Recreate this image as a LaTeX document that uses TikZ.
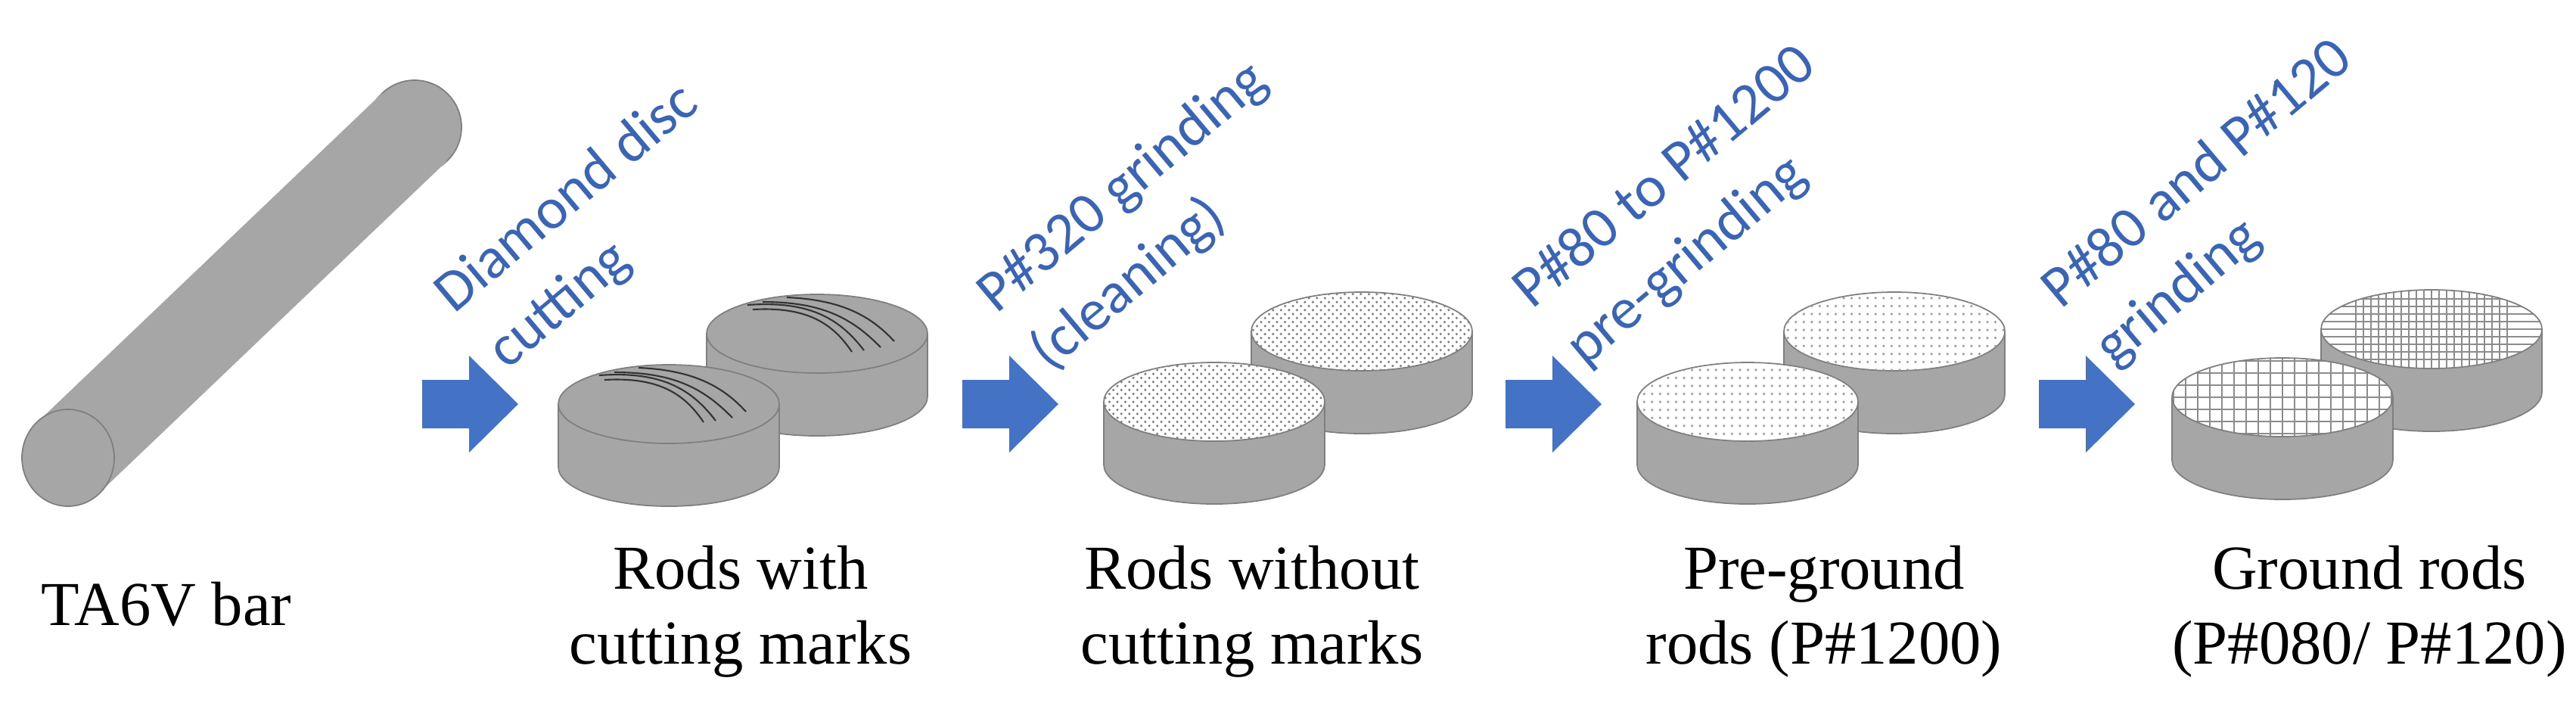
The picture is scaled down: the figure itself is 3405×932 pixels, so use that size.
\documentclass[tikz,border=0pt]{standalone}
\usepackage{fontspec}
\setmainfont{Liberation Serif}
\newfontfamily\blue{Carlito}
\usetikzlibrary{patterns}
\definecolor{rodgray}{HTML}{A6A6A6}
\definecolor{edgegray}{HTML}{7F7F7F}
\definecolor{arrowblue}{HTML}{4472C4}
\definecolor{textblue}{HTML}{3A64B5}
\tikzset{
  lab/.style={font=\fontsize{23.5}{28}\selectfont, align=center, anchor=base, inner sep=0pt},
  steplab/.style={font=\blue\fontsize{22}{26}\selectfont, text=textblue, rotate=40, anchor=base west, inner sep=0pt},
  rodside/.style={fill=rodgray, draw=edgegray, line width=0.5pt},
}
% cx, cy (top ellipse centre), top kind: 1 scratches, 2 coarse dots, 3 fine dots, 4 grid (spacing #4)
\newcommand\rodcyl[4]{%
  \path[rodside] (#1-146,#2) -- (#1-146,#2+83) arc[start angle=180,end angle=0,x radius=146,y radius=52] -- (#1+146,#2) -- cycle;
  \ifcase#3\or
    \path[fill=rodgray, draw=edgegray, line width=0.5pt] (#1,#2) ellipse[x radius=146,y radius=52];
    \draw[line width=0.6pt, black!80] (#1-92,#2-38) .. controls (#1-10,#2-44) and (#1+30,#2-20) .. (#1+62,#2+22);
    \draw[line width=0.6pt, black!80] (#1-72,#2-42) .. controls (#1+5,#2-42) and (#1+45,#2-22) .. (#1+84,#2+18);
    \draw[line width=0.6pt, black!80] (#1-40,#2-48) .. controls (#1+30,#2-45) and (#1+70,#2-25) .. (#1+102,#2+10);
    \draw[line width=0.6pt, black!80] (#1-85,#2-32) .. controls (#1-15,#2-36) and (#1+20,#2-15) .. (#1+46,#2+24);
  \or
    \path[fill=white, draw=edgegray, line width=0.5pt] (#1,#2) ellipse[x radius=146,y radius=52];
    \path[pattern=crosshatch dots, pattern color=gray] (#1,#2) ellipse[x radius=146,y radius=52];
  \or
    \path[fill=white, draw=edgegray, line width=0.5pt] (#1,#2) ellipse[x radius=146,y radius=52];
    \path[pattern=dots, pattern color=gray!80] (#1,#2) ellipse[x radius=146,y radius=52];
  \or
    \path[fill=white] (#1,#2) ellipse[x radius=146,y radius=52];
    \begin{scope}
      \clip (#1,#2) ellipse[x radius=146,y radius=52];
      \foreach \k in {-160,-144,...,160} {\draw[gray!90, line width=0.4pt] (#1+\k*#4/16,#2-60) -- (#1+\k*#4/16,#2+60);}
      \foreach \k in {-64,-48,...,64} {\draw[gray!90, line width=0.4pt] (#1-150,#2+\k*#4/16) -- (#1+150,#2+\k*#4/16);}
    \end{scope}
    \path[draw=edgegray, line width=0.5pt] (#1,#2) ellipse[x radius=146,y radius=52];
  \fi}
\newcommand\blockarrow[1]{%
  \fill[arrowblue] (#1,502) -- (#1+62,502) -- (#1+62,470) -- (#1+127,534) -- (#1+62,598) -- (#1+62,566) -- (#1,566) -- cycle;}
\begin{document}
\begin{tikzpicture}[x=0.01cm,y=-0.01cm]
\useasboundingbox (0,0) rectangle (3405,932);
% bar
\path[fill=rodgray, draw=edgegray, line width=0.5pt] (548,168) circle[radius=62];
\fill[rodgray] (132.8,649.9) -- (590.8,212.9) -- (505.2,123.1) -- (47.2,560.1) -- cycle;
\path[fill=rodgray, draw=edgegray, line width=0.5pt] (90,605) ellipse[x radius=61,y radius=64];
\node[lab] (barlab) at (220,826) {TA6V bar};
% arrows
\blockarrow{558}
\blockarrow{1272}
\blockarrow{1990}
\blockarrow{2695}
\node[steplab] (s1a) at (600,416) {Diamond disc};
\node[steplab] (s1b) at (670,490) {cutting};
\node[steplab] (s2a) at (1317,416) {P\#320 grinding};
\node[steplab] (s2b) at (1387,492) {(cleaning)};
\node[steplab] (s3a) at (2025,410) {P\#80 to P\#1200};
\node[steplab] (s3b) at (2095,486) {pre-grinding};
\node[steplab] (s4a) at (2724,410) {P\#80 and P\#120};
\node[steplab] (s4b) at (2794,486) {grinding};
% rods
\rodcyl{1080}{441}{1}{16}
\rodcyl{884}{534}{1}{16}
\rodcyl{1800}{438}{2}{16}
\rodcyl{1605}{531}{2}{16}
\rodcyl{2504}{438}{3}{16}
\rodcyl{2310}{531}{3}{16}
\rodcyl{3214}{435}{4}{10}
\rodcyl{3017}{525}{4}{16}
% labels (base anchor = last line)
\node[lab] (l1) at (979,877) {Rods with\\cutting marks};
\node[lab] (l2) at (1655,877) {Rods without\\cutting marks};
\node[lab] (l3) at (2411,877) {Pre-ground\\rods (P\#1200)};
\node[lab] (l4) at (3132,877) {Ground rods\\(P\#080/ P\#120)};
\end{tikzpicture}
\end{document}
